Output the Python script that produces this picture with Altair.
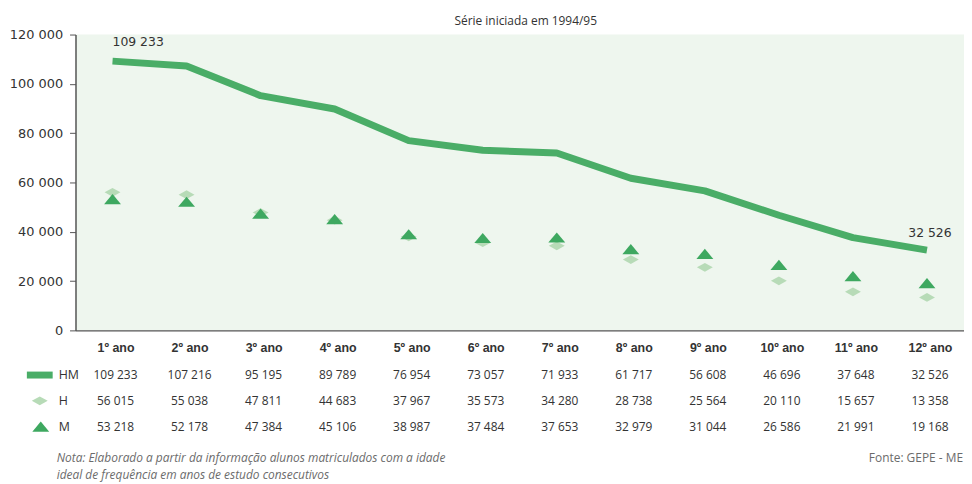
import altair as alt
import pandas as pd

# ---------------- data ----------------
categorias = ["1º ano", "2º ano", "3º ano", "4º ano", "5º ano", "6º ano",
              "7º ano", "8º ano", "9º ano", "10º ano", "11º ano", "12º ano"]
hm = [109233, 107216, 95195, 89789, 76954, 73057, 71933, 61717, 56608, 46696, 37648, 32526]
h = [56015, 55038, 47811, 44683, 37967, 35573, 34280, 28738, 25564, 20110, 15657, 13358]
m = [53218, 52178, 47384, 45106, 38987, 37484, 37653, 32979, 31044, 26586, 21991, 19168]
series = ["HM", "H", "M"]
eixo_y = [0, 20000, 40000, 60000, 80000, 100000, 120000]
titulo = "Série iniciada em 1994/95"
nota1 = "Nota: Elaborado a partir da informação alunos matriculados com a idade"
nota2 = "ideal de frequência em anos de estudo consecutivos"
fonte = "Fonte: GEPE - ME"

# ---------------- styling ----------------
W, H = 895, 298
COR_HM = "#4aad67"
COR_H = "#b7dbb7"
COR_M = "#3ea860"
FUNDO = "#eef6ee"
TXT = "#333333"
FONTE_TAB = "Open Sans"
DIAMANTE = "M-1,0L0,-0.55L1,0L0,0.55Z"
TRIANGULO = "M-1,0.6L0,-0.6L1,0.6Z"
linhas_tabela = {"HM": 343, "H": 369, "M": 395}

df = pd.DataFrame({"cat": categorias, "HM": hm, "H": h, "M": m})
longo = df.melt("cat", var_name="serie", value_name="valor")
longo["rotulo"] = longo["valor"].map(lambda v: f"{v:,}".replace(",", " "))
legenda = pd.DataFrame({"serie": series})

x = alt.X("cat:N", sort=categorias,
          scale=alt.Scale(type="point", padding=0.5),
          axis=alt.Axis(title=None, labelAngle=0, ticks=False, domain=True,
                        domainColor="#555555", domainWidth=1.5,
                        labelFont="Liberation Sans", labelFontSize=12.5,
                        labelFontWeight="bold",
                        labelColor=TXT, labelPadding=11, labelOffset=3, grid=False))
y = alt.Y("valor:Q",
          scale=alt.Scale(domain=[0, 120000], nice=False),
          axis=alt.Axis(title=None, values=eixo_y, grid=False,
                        labelExpr="replace(format(datum.value, ','), ',', ' ')",
                        labelFont="DejaVu Sans", labelFontSize=13, labelColor=TXT,
                        domainColor="#555555", domainWidth=1.5,
                        tickColor="#555555", tickSize=6, labelPadding=7))

base = alt.Chart(longo)

linha = base.transform_filter("datum.serie == 'HM'").mark_line(
    color=COR_HM, strokeWidth=7, strokeCap="butt", strokeJoin="round"
).encode(x=x, y=y)

diamantes = base.transform_filter("datum.serie == 'H'").mark_point(
    shape=DIAMANTE, filled=True, color=COR_H, size=256, opacity=1
).encode(x=x, y=y)

triangulos = base.transform_filter("datum.serie == 'M'").mark_point(
    shape=TRIANGULO, filled=True, color=COR_M, size=289, opacity=1
).encode(x=x, y=y)

rot_ini = base.transform_filter(
    f"datum.serie == 'HM' && datum.cat == '{categorias[0]}'"
).mark_text(align="left", dx=0, dy=-19, font="DejaVu Sans", fontSize=12.5,
            color=TXT).encode(x=x, y=y, text="rotulo:N")
rot_fim = base.transform_filter(
    f"datum.serie == 'HM' && datum.cat == '{categorias[-1]}'"
).mark_text(align="center", dx=3, dy=-17, font="DejaVu Sans", fontSize=12.5,
            color=TXT).encode(x=x, y=y, text="rotulo:N")

camadas = [linha, diamantes, triangulos, rot_ini, rot_fim]

# table rows
for s in series:
    camadas.append(
        base.transform_filter(f"datum.serie == '{s}'").mark_text(
            font=FONTE_TAB, fontSize=12, color=TXT, baseline="middle", dx=3
        ).encode(x=x, y=alt.value(linhas_tabela[s]), text="rotulo:N")
    )
    camadas.append(
        alt.Chart(legenda).transform_filter(f"datum.serie == '{s}'").mark_text(
            font=FONTE_TAB, fontSize=12.5, color=TXT, align="left", baseline="middle"
        ).encode(x=alt.value(-17), y=alt.value(linhas_tabela[s]), text="serie:N")
    )

# legend symbols
camadas.append(
    alt.Chart(legenda).transform_filter("datum.serie == 'HM'").mark_rule(
        color=COR_HM, strokeWidth=7
    ).encode(x=alt.value(-49), x2=alt.value(-23), y=alt.value(linhas_tabela["HM"]))
)
camadas.append(
    alt.Chart(legenda).transform_filter("datum.serie == 'H'").mark_point(
        shape=DIAMANTE, filled=True, color=COR_H, size=256, opacity=1
    ).encode(x=alt.value(-36), y=alt.value(linhas_tabela["H"]))
)
camadas.append(
    alt.Chart(legenda).transform_filter("datum.serie == 'M'").mark_point(
        shape=TRIANGULO, filled=True, color=COR_M, size=289, opacity=1
    ).encode(x=alt.value(-35), y=alt.value(linhas_tabela["M"]))
)

# notes
notas = pd.DataFrame({"txt": [nota1, nota2, fonte]})
camadas.append(
    alt.Chart(notas).transform_filter(f"datum.txt == '{nota1}'").mark_text(
        font="Open Sans", fontSize=12, fontStyle="italic", color="#6b6b6b",
        align="left", baseline="middle"
    ).encode(x=alt.value(-19), y=alt.value(427), text="txt:N")
)
camadas.append(
    alt.Chart(notas).transform_filter(f"datum.txt == '{nota2}'").mark_text(
        font="Open Sans", fontSize=12, fontStyle="italic", color="#6b6b6b",
        align="left", baseline="middle"
    ).encode(x=alt.value(-19), y=alt.value(444), text="txt:N")
)
camadas.append(
    alt.Chart(notas).transform_filter(f"datum.txt == '{fonte}'").mark_text(
        font="Open Sans", fontSize=12, color="#6b6b6b",
        align="right", baseline="middle"
    ).encode(x=alt.value(W - 1), y=alt.value(427), text="txt:N")
)

chart = alt.layer(*camadas).properties(
    width=W, height=H,
    autosize=alt.AutoSizeParams(type="none"),
    padding={"left": 68, "top": 25, "right": 0, "bottom": 153},
    title=alt.Title(titulo, font="Open Sans", fontSize=12, fontWeight="normal",
                    color=TXT, anchor="middle", offset=1, dx=6),
).configure_view(fill=FUNDO, strokeWidth=0)

chart.save("out.html", embed_options={"renderer": "svg", "actions": False})
